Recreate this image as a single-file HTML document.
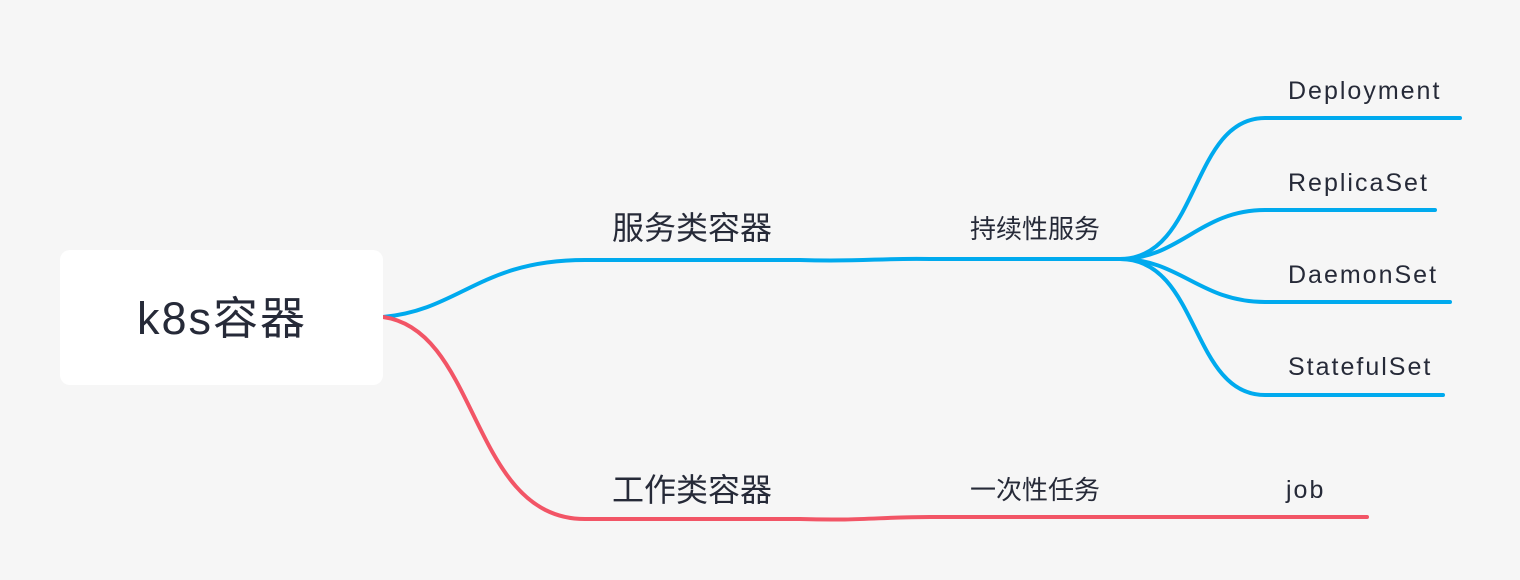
<!DOCTYPE html>
<html><head><meta charset="utf-8"><style>
body{margin:0;width:1520px;height:580px;background:#f6f6f6;overflow:hidden;position:relative;font-family:"Liberation Sans","Noto Sans CJK SC",sans-serif;color:#262a38}
.box{position:absolute;left:60px;top:250px;width:323px;height:135px;background:#fff;border-radius:10px}
.t{position:absolute;white-space:nowrap;line-height:1}
.e{font-size:25px;letter-spacing:2px}
</style></head><body>
<svg width="1520" height="580" style="position:absolute;left:0;top:0" fill="none" stroke-linecap="round">
<g stroke="#00aaee" stroke-width="4">
<path d="M383,317 C460,310 480,260 585,260 L800,260 C860,262 880,258 930,259 L1120,259"/>
<path d="M1120,259 C1200,259 1190,118 1265,118 L1460,118"/>
<path d="M1120,259 C1180,259 1200,210 1265,210 L1435,210"/>
<path d="M1120,259 C1180,259 1200,302 1265,302 L1450,302"/>
<path d="M1120,259 C1200,259 1190,395 1265,395 L1443,395"/>
</g>
<path stroke="#f25566" stroke-width="4" d="M383,317 C480,330 470,519 585,519 L800,519 C860,521 880,517 930,517 L1367,517"/>
</svg>
<div class="box"></div>
<div class="t" style="left:137px;top:296px;font-size:45px;letter-spacing:2px">k8s容器</div>
<div class="t" style="left:612px;top:212px;font-size:32px">服务类容器</div>
<div class="t" style="left:612px;top:474px;font-size:32px">工作类容器</div>
<div class="t" style="left:970px;top:216px;font-size:26px">持续性服务</div>
<div class="t" style="left:970px;top:477px;font-size:26px">一次性任务</div>
<div class="t e" style="left:1288px;top:79px">Deployment</div>
<div class="t e" style="left:1288px;top:171px">ReplicaSet</div>
<div class="t e" style="left:1288px;top:263px">DaemonSet</div>
<div class="t e" style="left:1288px;top:355px">StatefulSet</div>
<div class="t e" style="left:1286px;top:478px">job</div>
</body></html>
